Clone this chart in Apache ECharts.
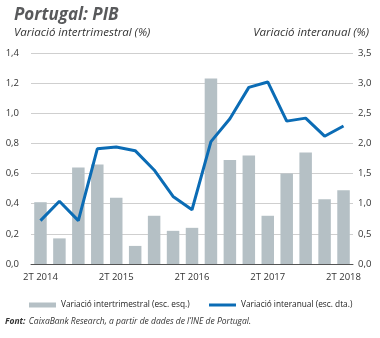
<!DOCTYPE html>
<html><head><meta charset="utf-8">
<script src="https://cdn.jsdelivr.net/npm/echarts@6/dist/echarts.min.js"></script>
<style>html,body{margin:0;padding:0;background:#fff}#c{width:380px;height:338px}</style>
</head><body><div id="c"></div>
<script>
const categories = ['2T 2014','3T 2014','4T 2014','1T 2015','2T 2015','3T 2015','4T 2015','1T 2016','2T 2016','3T 2016','4T 2016','1T 2017','2T 2017','3T 2017','4T 2017','1T 2018','2T 2018'];
const quarterly = [0.41,0.17,0.64,0.66,0.44,0.12,0.32,0.22,0.24,1.23,0.69,0.72,0.32,0.60,0.74,0.43,0.49];
const annual = [0.72,1.04,0.72,1.91,1.94,1.88,1.56,1.12,0.90,2.03,2.41,2.93,3.02,2.37,2.42,2.12,2.29];
const leftTicks = [0,1.4,0.2];
const rightTicks = [0,3.5,0.5];
const nameBar = 'Variació intertrimestral (esc. esq.)';
const nameLine = 'Variació interanual (esc. dta.)';

const F = '"Open Sans", "Noto Sans", sans-serif';
const fmt = v => v.toFixed(1).replace('.', ',');
const chart = echarts.init(document.getElementById('c'));
chart.setOption({
  animation: false,
  textStyle: {fontFamily: F},
  title: [
    {text: 'Portugal: PIB', left: 9, top: 2, textStyle: {fontFamily: F, fontSize: 17, fontWeight: 'bold', fontStyle: 'italic', color: '#58595b'}},
    {text: 'Variació intertrimestral (%)', left: 9, top: 22, textStyle: {fontFamily: F, fontSize: 11.5, fontWeight: 'normal', fontStyle: 'italic', color: '#333'}},
    {text: 'Variació interanual (%)', right: 6, top: 22, textStyle: {fontFamily: F, fontSize: 11.5, fontWeight: 'normal', fontStyle: 'italic', color: '#333'}}
  ],
  legend: [
    {data: [nameBar], left: 24, top: 296, icon: 'rect', itemWidth: 27, itemHeight: 5, itemGap: 0, textStyle: {fontFamily: F, fontSize: 8.3, color: '#222'}},
    {data: [nameLine], left: 204, top: 296, icon: 'rect', itemWidth: 27, itemHeight: 3, itemGap: 0, textStyle: {fontFamily: F, fontSize: 8.3, color: '#222'}}
  ],
  graphic: [{
    type: 'text', left: 5, top: 316,
    style: {
      rich: {b: {fontFamily: F, fontSize: 8.5, fontWeight: 'bold', fontStyle: 'italic', fill: '#333'},
             n: {fontFamily: F, fontSize: 8.5, fontStyle: 'italic', fill: '#333'}},
      text: '{b|Font:} {n|CaixaBank Research, a partir de dades de l’INE de Portugal.}'
    }
  }],
  grid: {left: 31, right: 27, top: 53, bottom: 74},
  xAxis: {
    type: 'category', data: categories, boundaryGap: true,
    axisLine: {lineStyle: {color: '#555', width: 1}},
    axisTick: {interval: 3, length: 4, lineStyle: {color: '#555'}},
    axisLabel: {interval: 3, margin: 8, fontFamily: F, fontSize: 9.5, color: '#333', formatter: v => v}
  },
  yAxis: [
    {type: 'value', min: leftTicks[0], max: leftTicks[1], interval: leftTicks[2],
     axisLine: {show: false}, axisTick: {show: false},
     splitLine: {lineStyle: {color: '#cfcfcf', width: 1}},
     axisLabel: {margin: 12, fontFamily: F, fontSize: 9.5, color: '#333', formatter: fmt}},
    {type: 'value', min: rightTicks[0], max: rightTicks[1], interval: rightTicks[2],
     axisLine: {show: false}, axisTick: {show: false}, splitLine: {show: false},
     axisLabel: {margin: 5, fontFamily: F, fontSize: 9.5, color: '#333', formatter: fmt}}
  ],
  series: [
    {name: nameBar, type: 'bar', data: quarterly, yAxisIndex: 0, barWidth: 12.5,
     itemStyle: {color: '#b5c0c5'}},
    {name: nameLine, type: 'line', data: annual, yAxisIndex: 1, symbol: 'none',
     lineStyle: {color: '#0b6cb5', width: 3}, itemStyle: {color: '#0b6cb5'}, z: 5}
  ]
});
</script></body></html>
